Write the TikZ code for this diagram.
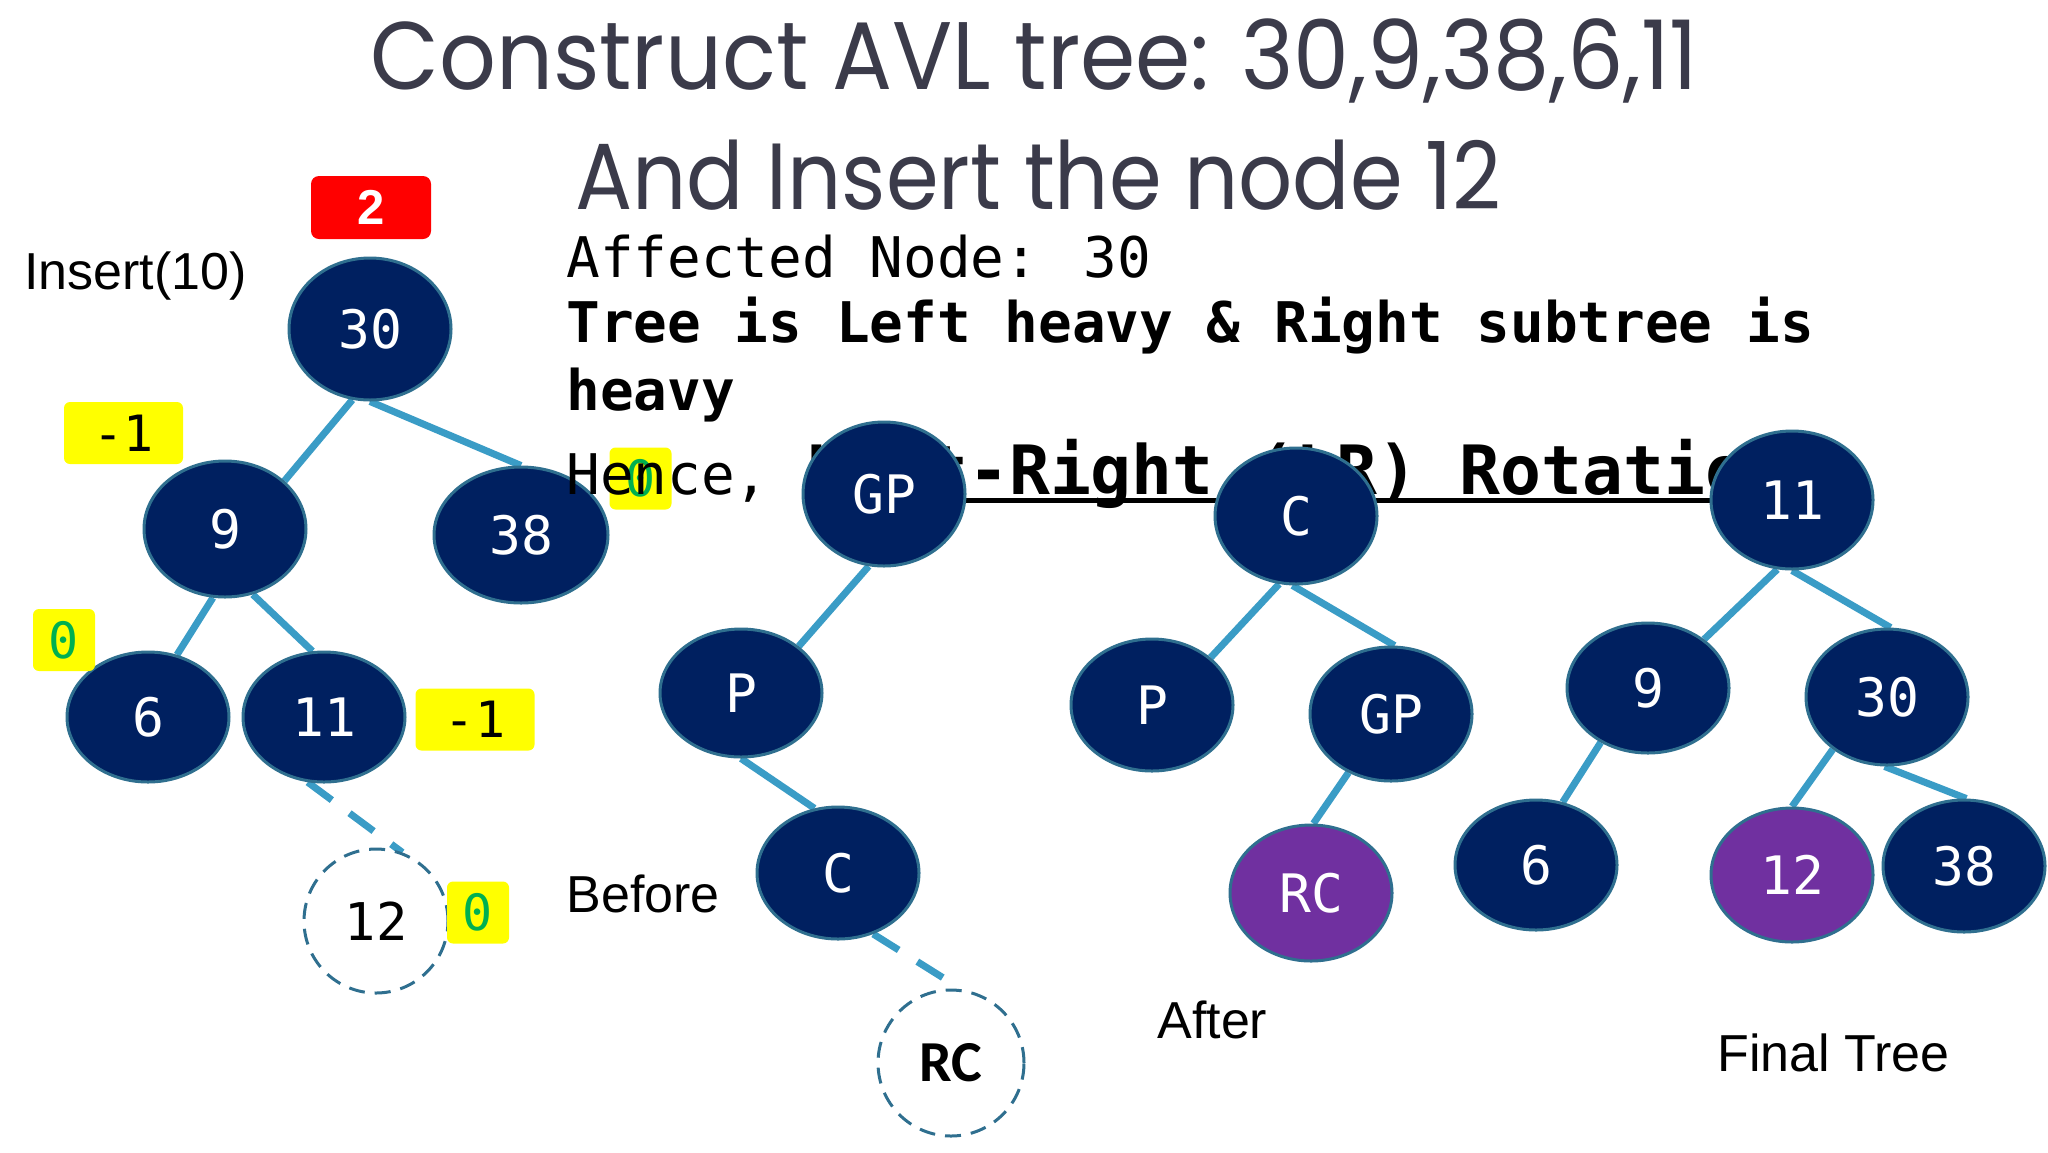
\documentclass[tikz,border=0pt]{standalone}
\usepackage{fontspec}
\usepackage{graphicx}
\usetikzlibrary{shapes.geometric,backgrounds}
\setmainfont{Liberation Sans}
\newfontfamily\titlefont{Poppins}
\newfontfamily\monofont{DejaVu Sans Mono}
\newfontfamily\calfont{Carlito}
\definecolor{navy}{HTML}{002060}
\definecolor{nborder}{HTML}{2F6F8F}
\definecolor{edgecol}{HTML}{3A9CC6}
\definecolor{purp}{HTML}{7030A0}
\definecolor{titlecol}{HTML}{3B3B4A}
\definecolor{hlyellow}{HTML}{FFFF00}
\definecolor{zgreen}{HTML}{00B050}
\definecolor{redbox}{HTML}{FF0000}
\tikzset{
  tnode/.style={ellipse, draw=nborder, line width=1.5pt, fill=navy, text=white,
    minimum width=81pt, minimum height=66pt, inner sep=0pt,
    font=\monofont\fontsize{26.5}{30}\selectfont},
  pnode/.style={tnode, fill=purp},
  dnode/.style={circle, draw=nborder, line width=1.5pt, dash pattern=on 8pt off 5pt,
    fill=white, minimum size=72pt, inner sep=0pt, text=black},
  tedge/.style={draw=edgecol, line width=3.5pt},
  dedge/.style={tedge, dash pattern=on 15pt off 11pt},
  ybox/.style={rectangle, rounded corners=3pt, fill=hlyellow, minimum width=59.5pt,
    minimum height=31pt, inner sep=0pt, font=\monofont\fontsize{25}{28}\selectfont},
  zbox/.style={ybox, minimum width=31pt, text=zgreen},
  lbl/.style={anchor=base west, inner sep=0pt, font=\fontsize{26}{30}\selectfont},
  mtext/.style={anchor=base west, inner sep=0pt, font=\monofont\fontsize{28}{32}\selectfont},
}
\begin{document}
\begin{tikzpicture}[x=0.5pt,y=-0.5pt]
\begin{pgfonlayer}{background}
\fill[white] (0,0) rectangle (2048,1152);
\end{pgfonlayer}
\useasboundingbox (0,0) rectangle (2048,1152);

% titles
\node[anchor=base west, inner sep=0pt, text=titlecol] (t1) at (370,89)
  {\resizebox{664pt}{\height}{\titlefont\fontsize{48}{56}\selectfont Construct AVL tree: 30,9,38,6,11}};
\node[anchor=base west, inner sep=0pt, text=titlecol] (t2) at (575,209)
  {\resizebox{463pt}{\height}{\titlefont\fontsize{47}{56}\selectfont And Insert the node 12}};

% text block
\node[mtext] (aff) at (566,277) {Affected Node: 30};
\node[mtext, font=\monofont\bfseries\fontsize{28}{32}\selectfont] (tree) at (566,342) {Tree is Left heavy \& Right subtree is};
\node[mtext, font=\monofont\bfseries\fontsize{28}{32}\selectfont] (heavy) at (566,410) {heavy};

% left tree
\node[lbl] (ins) at (24,289) {Insert(10)};
\node[rectangle, rounded corners=4pt, fill=redbox, minimum width=60pt, minimum height=31.5pt,
  inner sep=0pt, text=white, font=\bfseries\fontsize{24.5}{28}\selectfont] (bf2) at (371,207.5) {2};
\node[tnode, minimum height=71pt] (a30) at (370,329) {30};
\node[tnode, minimum height=68pt] (a9) at (225,529) {9};
\node[tnode, minimum width=87pt, minimum height=68pt] (a38) at (521,535) {38};
\node[tnode, minimum height=65pt] (a6) at (148,717) {6};
\node[tnode, minimum height=65pt] (a11) at (324,717) {11};
\node[dnode, font=\monofont\fontsize{26}{30}\selectfont] (a12) at (376,921) {12};
\node[ybox] (y1) at (123.5,433) {-1};
\node[zbox] (y2) at (64,640) {0};
\node[ybox] (y3) at (475,719.5) {-1};
\node[zbox] (y4) at (478,912.5) {0};
\node[zbox] (y5) at (640.5,478.5) {0};

% Hence line (under the middle nodes)
\node[mtext] (hence) at (566,494) {Hence,};
\node[anchor=base west, inner sep=0pt, font=\monofont\bfseries\fontsize{34}{38}\selectfont] (lr) at (804,494) {Left-Right (LR) Rotation};
\draw[line width=2.5pt] ([yshift=-3pt]lr.base west) -- ([yshift=-3pt]lr.base east);

% before
\node[lbl] (before) at (566,912) {Before};
\node[tnode, minimum height=72pt] (bGP) at (884,494) {GP};
\node[tnode, minimum height=64pt] (bP) at (741,693) {P};
\node[tnode] (bC) at (838,873) {C};
\node[dnode, minimum size=73pt, font=\calfont\bfseries\fontsize{29}{32}\selectfont] (bRC) at (951,1063) {RC};

% after
\node[lbl] (after) at (1157,1038) {After};
\node[tnode, minimum height=68pt] (cC) at (1296,516) {C};
\node[tnode] (cP) at (1152,705) {P};
\node[tnode, minimum height=67pt] (cGP) at (1391,714) {GP};
\node[pnode, minimum height=68pt] (cRC) at (1311,893) {RC};

% final
\node[lbl] (final) at (1717,1071) {Final Tree};
\node[tnode, minimum height=69pt] (d11) at (1792,500) {11};
\node[tnode, minimum height=65pt] (d9) at (1648,688) {9};
\node[tnode, minimum height=68pt] (d30) at (1887,697) {30};
\node[tnode, minimum height=65pt] (d6) at (1536,865) {6};
\node[pnode, minimum height=67pt] (d12) at (1792,875) {12};
\node[tnode] (d38) at (1964,866) {38};

\begin{pgfonlayer}{background}
\draw[tedge] (a30.256) -- (a9.39);
\draw[tedge] (a30.270) -- (a38.90);
\draw[tedge] (a9.260) -- (a6.65);
\draw[tedge] (a9.293) -- (a11.100);
\draw[dedge] (a11.256) -- (a12.69);
\draw[tedge] (bGP.258) -- (bP.39);
\draw[tedge] (bP.270) -- (bC.110);
\draw[dedge] (bC.300) -- (bRC.82);
\draw[tedge] (cC.256) -- (cP.39);
\draw[tedge] (cC.267) -- (cGP.87);
\draw[tedge] (cGP.234) -- (cRC.88);
\draw[tedge] (d11.258) -- (d9.41);
\draw[tedge] (d11.270) -- (d30.87);
\draw[tedge] (d9.229) -- (d6.67);
\draw[tedge] (d30.224) -- (d12.90);
\draw[tedge] (d30.268) -- (d38.88);
\end{pgfonlayer}
\end{tikzpicture}
\end{document}
